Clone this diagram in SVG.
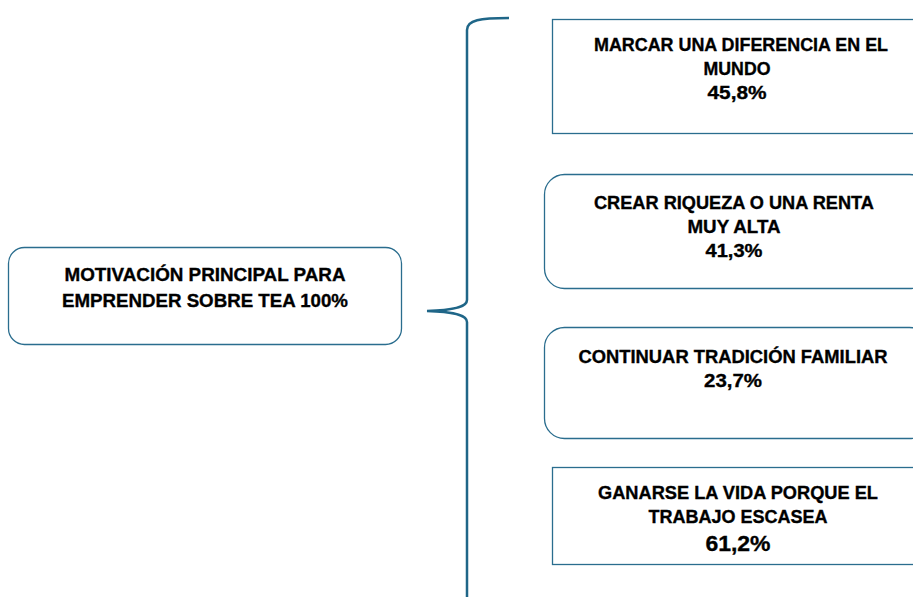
<svg xmlns="http://www.w3.org/2000/svg" width="913" height="597" viewBox="0 0 913 597">
<style>
.box{fill:#ffffff;stroke:#2a6d8e;stroke-width:1.3}
.t{font-family:"Liberation Sans",Arial,sans-serif;font-weight:bold;font-size:19px;fill:#000;stroke:#000;stroke-width:0.35;text-anchor:middle}
.brace{fill:none;stroke:#1f6688;stroke-width:2.5}
</style>
<rect width="913" height="597" fill="#ffffff"/>
<g id="connectors">
<path class="brace" d="M509,18 C480,18 467,20 467,30 L467,300 C467,306 458,310 427,311 C458,312 467,316 467,322 L467,610"/>
</g>
<g id="root">
<rect class="box" x="8.5" y="247.5" width="393" height="97" rx="16"/>
<text class="t" x="205" y="281" textLength="281" lengthAdjust="spacingAndGlyphs">MOTIVACIÓN PRINCIPAL PARA</text>
<text class="t" x="205" y="307" textLength="286" lengthAdjust="spacingAndGlyphs">EMPRENDER SOBRE TEA 100%</text>
</g>
<g id="n1">
<rect class="box" x="552.5" y="19.5" width="380" height="114"/>
<text class="t" x="741" y="51" textLength="294" lengthAdjust="spacingAndGlyphs">MARCAR UNA DIFERENCIA EN EL</text>
<text class="t" x="737" y="75" textLength="67" lengthAdjust="spacingAndGlyphs">MUNDO</text>
<text class="t" x="737" y="99" textLength="59" lengthAdjust="spacingAndGlyphs">45,8%</text>
</g>
<g id="n2">
<rect class="box" x="544.5" y="174.5" width="385" height="114" rx="20"/>
<text class="t" x="734" y="209" textLength="280" lengthAdjust="spacingAndGlyphs">CREAR RIQUEZA O UNA RENTA</text>
<text class="t" x="734" y="233" textLength="93" lengthAdjust="spacingAndGlyphs">MUY ALTA</text>
<text class="t" x="734" y="257" textLength="57" lengthAdjust="spacingAndGlyphs">41,3%</text>
</g>
<g id="n3">
<rect class="box" x="544.5" y="327.5" width="385" height="111" rx="20"/>
<text class="t" x="733" y="363" textLength="309" lengthAdjust="spacingAndGlyphs">CONTINUAR TRADICIÓN FAMILIAR</text>
<text class="t" x="733" y="387" textLength="58" lengthAdjust="spacingAndGlyphs">23,7%</text>
</g>
<g id="n4">
<rect class="box" x="552.5" y="467.5" width="380" height="97"/>
<text class="t" x="738" y="499" textLength="280" lengthAdjust="spacingAndGlyphs">GANARSE LA VIDA PORQUE EL</text>
<text class="t" x="738" y="523" textLength="179" lengthAdjust="spacingAndGlyphs">TRABAJO ESCASEA</text>
<text class="t" x="738" y="551" style="font-size:22px" textLength="65" lengthAdjust="spacingAndGlyphs">61,2%</text>
</g>
</svg>
